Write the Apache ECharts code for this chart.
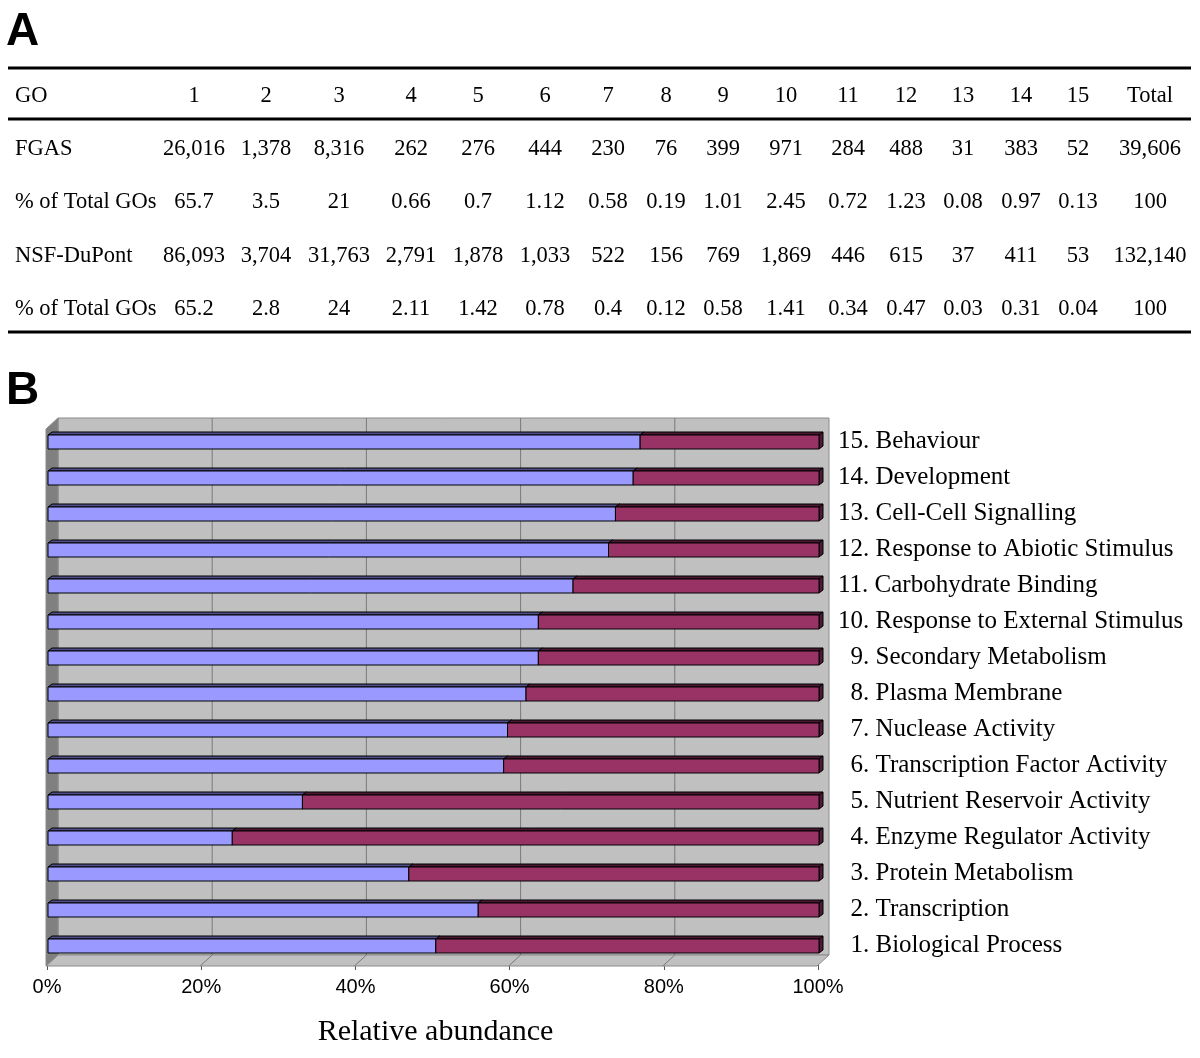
<!DOCTYPE html>
<html><head><meta charset="utf-8">
<script src="https://cdn.jsdelivr.net/npm/echarts@6/dist/echarts.min.js"></script>
<style>html,body{margin:0;padding:0;background:#fff}#c{width:1200px;height:1058px}</style>
</head><body><div id="c"></div>
<script>
// ---- Table A data ----
const goHeader = ['GO','1','2','3','4','5','6','7','8','9','10','11','12','13','14','15','Total'];
const rowLabels = ['FGAS','% of Total GOs','NSF-DuPont','% of Total GOs'];
const fgasCounts = ['26,016','1,378','8,316','262','276','444','230','76','399','971','284','488','31','383','52','39,606'];
const fgasPct = ['65.7','3.5','21','0.66','0.7','1.12','0.58','0.19','1.01','2.45','0.72','1.23','0.08','0.97','0.13','100'];
const nsfCounts = ['86,093','3,704','31,763','2,791','1,878','1,033','522','156','769','1,869','446','615','37','411','53','132,140'];
const nsfPct = ['65.2','2.8','24','2.11','1.42','0.78','0.4','0.12','0.58','1.41','0.34','0.47','0.03','0.31','0.04','100'];

// ---- Chart B data (bottom to top) ----
const categories = ['1. Biological Process','2. Transcription','3. Protein Metabolism','4. Enzyme Regulator Activity',
  '5. Nutrient Reservoir Activity','6. Transcription Factor Activity','7. Nuclease Activity','8. Plasma Membrane',
  '9. Secondary Metabolism','10. Response to External Stimulus','11. Carbohydrate Binding','12. Response to Abiotic Stimulus',
  '13. Cell-Cell Signalling','14. Development','15. Behaviour'];
const fgasShare = [50.3, 55.8, 46.8, 23.9, 33.0, 59.1, 59.6, 62.0, 63.6, 63.6, 68.1, 72.7, 73.6, 75.9, 76.8];
const nsfShare  = [49.7, 44.2, 53.2, 76.1, 67.0, 40.9, 40.4, 38.0, 36.4, 36.4, 31.9, 27.3, 26.4, 24.1, 23.2];
const xTicks = [0, 20, 40, 60, 80, 100];

// ---- layout (styles) ----
const colX = [194,266,339,411,478,545,608,666,723,786,848,906,963,1021,1078,1150];
const rowY = [149,202,256,309];
const SERIF = '"Liberation Serif","Times New Roman",serif';
const SANS = '"Liberation Sans",Arial,sans-serif';

const chart = echarts.init(document.getElementById('c'));

function txt(text, x, y, align, font) {
  return {type:'text', silent:true, style:{text:text, x:x, y:y, font:font || ('22.5px ' + SERIF), fill:'#000',
    align:align, textAlign:align, verticalAlign:'middle', textVerticalAlign:'middle'}};
}
const graphics = [];
graphics.push(txt('A', 6, 32, 'left', 'bold 46px ' + SANS));
graphics.push(txt('B', 6, 391, 'left', 'bold 46px ' + SANS));
[68,119,332].forEach(y => graphics.push({type:'line', silent:true, shape:{x1:8,y1:y,x2:1191,y2:y}, style:{stroke:'#000', lineWidth:3}}));
graphics.push(txt(goHeader[0], 15, 96, 'left'));
for (let i = 1; i < goHeader.length; i++) graphics.push(txt(goHeader[i], colX[i-1], 96, 'center'));
const rows = [fgasCounts, fgasPct, nsfCounts, nsfPct];
rows.forEach((r, ri) => {
  graphics.push(txt(rowLabels[ri], 15, rowY[ri], 'left'));
  r.forEach((v, ci) => graphics.push(txt(v, colX[ci], rowY[ri], 'center')));
});

const DX = 12, DY = 11; // plot depth
const BDX = 4, BDY = 3; // bar depth

function frameRender(params, api) {
  const cs = params.coordSys;
  const x0 = api.coord([0, 0])[0] - 1, x1 = api.coord([100, 0])[0] - 1;
  const yTop = cs.y + 6, yBot = cs.y + cs.height + 3;
  return {type:'group', children:[
    {type:'polygon', shape:{points:[[x0+DX,yTop-DY],[x1+DX,yTop-DY],[x1+DX,yBot-DY],[x0+DX,yBot-DY]]}, style:{fill:'#c0c0c0', stroke:'#8a8a8a', lineWidth:1}},
    {type:'polygon', shape:{points:[[x0,yBot],[x0+DX,yBot-DY],[x1+DX,yBot-DY],[x1,yBot]]}, style:{fill:'#c0c0c0', stroke:'#8a8a8a', lineWidth:1}},
    {type:'polygon', shape:{points:[[x0,yTop],[x0+DX,yTop-DY],[x0+DX,yBot-DY],[x0,yBot]]}, style:{fill:'#808080', stroke:'#8a8a8a', lineWidth:1}}
  ]};
}
function gridRender(params, api) {
  const cs = params.coordSys;
  const v = api.value(0);
  const x = api.coord([v, 0])[0] - 1;
  const yTop = cs.y + 6, yBot = cs.y + cs.height + 3;
  return {type:'polyline', shape:{points:[[x+DX,yTop-DY],[x+DX,yBot-DY],[x,yBot]]}, style:{stroke:'#7a7a7a', lineWidth:1, fill:null}};
}
function barRender(front, top) {
  return function(params, api) {
    const s = api.value(0), e = api.value(1), idx = api.value(2);
    const p0 = api.coord([s, idx]), p1 = api.coord([e, idx]);
    const h = 14;
    const yt = p0[1] - h/2 + 1, yb = yt + h;
    const xa = p0[0] + 1, xb = p1[0] + 1;
    const st = {stroke:'#000', lineWidth:1, lineJoin:'round'};
    return {type:'group', children:[
      {type:'polygon', shape:{points:[[xa,yt],[xa+BDX,yt-BDY],[xb+BDX,yt-BDY],[xb,yt]]}, style:Object.assign({fill:top}, st)},
      {type:'polygon', shape:{points:[[xb,yt],[xb+BDX,yt-BDY],[xb+BDX,yb-BDY],[xb,yb]]}, style:Object.assign({fill:top}, st)},
      {type:'rect', shape:{x:xa, y:yt, width:xb-xa, height:h}, style:Object.assign({fill:front}, st)}
    ]};
  };
}
const fgasData = categories.map((c, i) => [0, fgasShare[i], i]);
const nsfData = categories.map((c, i) => [fgasShare[i], fgasShare[i] + nsfShare[i], i]);

chart.setOption({
  animation:false,
  backgroundColor:'#fff',
  graphic:graphics,
  grid:{left:47, right:382, top:423, bottom:95, containLabel:false},
  xAxis:{type:'value', min:0, max:100, interval:20,
    axisLine:{show:true, onZero:false, lineStyle:{color:'#555', width:1}},
    axisTick:{show:true, length:7, lineStyle:{color:'#555'}},
    splitLine:{show:false},
    axisLabel:{formatter:'{value}%', color:'#000', fontFamily:SANS, fontSize:20, margin:14},
    name:'Relative abundance', nameLocation:'middle', nameGap:54,
    nameTextStyle:{fontFamily:SERIF, fontSize:30, color:'#000', padding:[0,0,0,6]}},
  yAxis:{type:'category', data:categories, position:'right',
    axisLine:{show:false}, axisTick:{show:false}, splitLine:{show:false},
    axisLabel:{margin:20, color:'#000', align:'left', interval:0, fontFamily:SERIF, fontSize:25,
      formatter:function(v){ const k = v.indexOf('. '); const num = v.slice(0, k+1);
        return (num.length < 3 ? '\u2007' : '') + num + ' ' + v.slice(k+2); }}},
  series:[
    {type:'custom', name:'frame', renderItem:frameRender, data:[[0]], z:1, silent:true, clip:false},
    {type:'custom', name:'grid', renderItem:gridRender, data:[[20],[40],[60],[80]], z:2, silent:true, clip:false},
    {type:'custom', name:'FGAS', renderItem:barRender('#9999ff', '#4f4f86'), data:fgasData, z:3, clip:false},
    {type:'custom', name:'NSF-DuPont', renderItem:barRender('#993366', '#4d1a33'), data:nsfData, z:3, clip:false}
  ]
});
</script></body></html>
